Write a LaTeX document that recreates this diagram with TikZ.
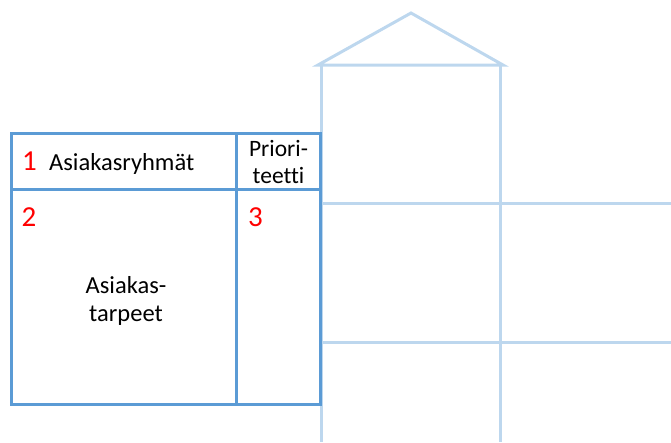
\documentclass[tikz,border=0pt]{standalone}
\usepackage{fontspec}
\setmainfont[Ligatures=NoCommon]{Carlito}
\definecolor{frameblue}{HTML}{5B9BD5}
\definecolor{houseblue}{HTML}{BDD7EE}
\definecolor{numred}{HTML}{FF0000}
\begin{document}
\begin{tikzpicture}[x=1pt,y=-1pt,
  house/.style={draw=houseblue,line width=3pt},
  frame/.style={draw=frameblue,line width=3pt},
  label/.style={font=\fontsize{23.5}{27}\selectfont,inner sep=0pt,align=center},
  biglabel/.style={font=\fontsize{24.5}{27.5}\selectfont,inner sep=0pt,align=center},
  num/.style={font=\fontsize{29}{32}\selectfont,text=numred,inner sep=0pt}]
\useasboundingbox (0,0) rectangle (671,442);
% house outline
\coordinate (apex) at (411,13);
\coordinate (roofL) at (318,65);
\coordinate (roofR) at (503,65);
\draw[house,line join=miter] (roofL) -- (apex) -- (roofR) -- cycle;
\draw[house] (321,65) -- (321,442);
\draw[house] (500,65) -- (500,442);
\draw[house] (321,203) -- (671,203);
\draw[house] (321,342) -- (671,342);
% matrix
\draw[frame,fill=white] (11,133) rectangle (320,404);
\draw[frame] (236,133) -- (236,404);
\draw[frame] (11,189) -- (320,189);
% texts
\node[num,anchor=base] (n1) at (29.5,170) {1};
\node[biglabel,anchor=base west] (grp) at (49,170) {Asiakasryhmät};
\node[label] (prio) at (278.5,162) {Priori-\\teetti};
\node[num,anchor=base] (n2) at (29,226.5) {2};
\node[num,anchor=base] (n3) at (255.5,226.5) {3};
\node[biglabel] (need) at (126,301) {Asiakas-\\tarpeet};
\end{tikzpicture}
\end{document}
